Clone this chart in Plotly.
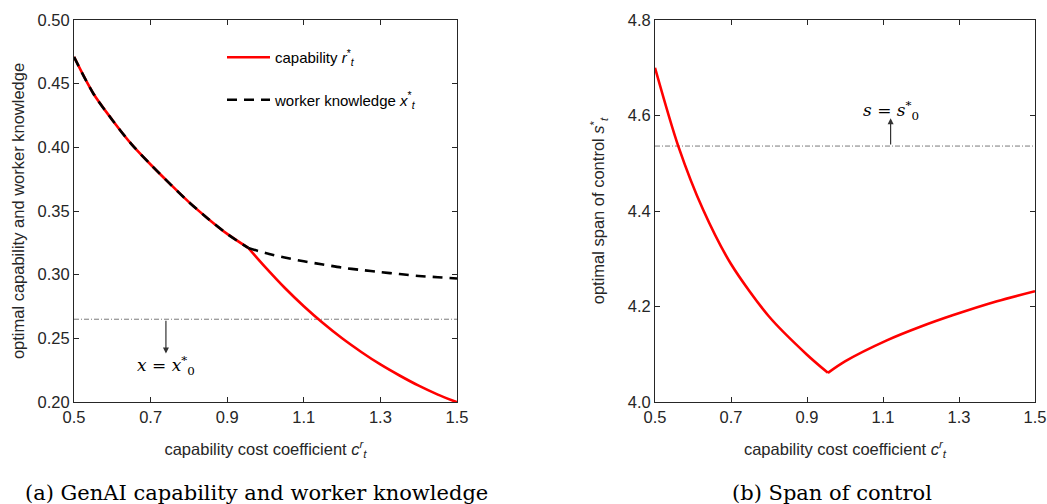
import plotly.graph_objects as go

# ---------------- data ----------------
c_left = [0.5, 0.55, 0.6, 0.65, 0.7, 0.75, 0.8, 0.85, 0.9, 0.955,
          1.0, 1.05, 1.1, 1.15, 1.2, 1.25, 1.3, 1.35, 1.4, 1.45, 1.5]
r_star = [0.471, 0.4425, 0.4215, 0.4025, 0.3865, 0.3715, 0.357, 0.344, 0.332, 0.321,
          0.3057, 0.2897, 0.2752, 0.2620, 0.2500, 0.2393, 0.2295, 0.2208, 0.2128, 0.2058, 0.1998]
x_star = [0.471, 0.4425, 0.4215, 0.4025, 0.3865, 0.3715, 0.357, 0.344, 0.332, 0.321,
          0.317, 0.3135, 0.3105, 0.308, 0.3055, 0.3037, 0.302, 0.3005, 0.299, 0.298, 0.297]
x0_star = 0.265
kink_left = 9  # index where r* departs from x*

c_right = [0.5, 0.561, 0.627, 0.7, 0.8, 0.9, 0.955, 1.0, 1.11, 1.2, 1.285, 1.4, 1.5]
s_star = [4.70, 4.5365, 4.402, 4.289, 4.179, 4.099, 4.061, 4.085, 4.129, 4.158, 4.182, 4.211, 4.232]
s0_star = 4.536
kink_right = 6  # index of minimum

x_ticks = [0.5, 0.7, 0.9, 1.1, 1.3, 1.5]
y_ticks_left = [0.20, 0.25, 0.30, 0.35, 0.40, 0.45, 0.50]
y_ticks_right = [4.0, 4.2, 4.4, 4.6, 4.8]

# ---------------- figure ----------------
W, H = 1047, 504
TXT = "#262626"
SANS = "Liberation Sans, Arial, Helvetica, sans-serif"
SERIF = "DejaVu Serif, serif"
RED = "#ff0000"
LW = 2.6

fig = go.Figure()

# left panel
fig.add_trace(go.Scatter(x=[c_left[0], c_left[-1]], y=[x0_star, x0_star], mode="lines",
                         line=dict(color="#7a7a7a", width=1, dash="5px,2px,1px,2px"),
                         showlegend=False, hoverinfo="skip", xaxis="x", yaxis="y"))
fig.add_trace(go.Scatter(x=c_left[:kink_left + 1], y=r_star[:kink_left + 1], mode="lines",
                         line=dict(color=RED, width=LW, shape="spline", smoothing=0.8),
                         name="capability <i>r</i><sup>*</sup><sub><i>t</i></sub>",
                         legendgroup="a", xaxis="x", yaxis="y"))
fig.add_trace(go.Scatter(x=c_left[kink_left:], y=r_star[kink_left:], mode="lines",
                         line=dict(color=RED, width=LW, shape="spline", smoothing=0.8),
                         legendgroup="a", showlegend=False, xaxis="x", yaxis="y"))
fig.add_trace(go.Scatter(x=c_left[:kink_left + 1], y=x_star[:kink_left + 1], mode="lines",
                         line=dict(color="#000000", width=LW, dash="10px,7px", shape="spline", smoothing=0.8),
                         name="worker knowledge <i>x</i><sup>*</sup><sub><i>t</i></sub>",
                         legendgroup="b", xaxis="x", yaxis="y"))
fig.add_trace(go.Scatter(x=c_left[kink_left:], y=x_star[kink_left:], mode="lines",
                         line=dict(color="#000000", width=LW, dash="10px,7px", shape="spline", smoothing=0.8),
                         legendgroup="b", showlegend=False, xaxis="x", yaxis="y"))

# right panel
fig.add_trace(go.Scatter(x=[c_right[0], c_right[-1]], y=[s0_star, s0_star], mode="lines",
                         line=dict(color="#7a7a7a", width=1, dash="5px,2px,1px,2px"),
                         showlegend=False, hoverinfo="skip", xaxis="x2", yaxis="y2"))
fig.add_trace(go.Scatter(x=c_right[:kink_right + 1], y=s_star[:kink_right + 1], mode="lines",
                         line=dict(color=RED, width=LW, shape="spline", smoothing=0.8),
                         showlegend=False, xaxis="x2", yaxis="y2"))
fig.add_trace(go.Scatter(x=c_right[kink_right:], y=s_star[kink_right:], mode="lines",
                         line=dict(color=RED, width=LW, shape="spline", smoothing=0.8),
                         showlegend=False, xaxis="x2", yaxis="y2"))

xb = (504 - 402) / H
yt = (504 - 20) / H

axis_common = dict(showline=True, linecolor=TXT, linewidth=1, mirror="ticks",
                   ticks="inside", ticklen=5, tickcolor=TXT, showgrid=False, zeroline=False,
                   automargin=False,
                   tickfont=dict(family=SANS, size=16.5, color=TXT))

xtitle = "capability cost coefficient <i>c</i><sup><i>r</i></sup><sub><i>t</i></sub>"
tfont = dict(family=SANS, size=16.5, color=TXT)

fig.update_layout(
    width=W, height=H, plot_bgcolor="white", paper_bgcolor="white",
    margin=dict(l=0, r=0, t=0, b=0, autoexpand=False),
    xaxis=dict(domain=[74 / W, 457 / W], range=[0.5, 1.5], tickvals=x_ticks, tickformat=".1f",
               title=dict(text=xtitle, font=tfont, standoff=18),
               anchor="y", **axis_common),
    yaxis=dict(domain=[xb, yt], range=[0.20, 0.50], tickvals=y_ticks_left, tickformat=".2f",
               title=dict(text="optimal capability and worker knowledge", font=tfont, standoff=8),
               anchor="x", **axis_common),
    xaxis2=dict(domain=[655 / W, 1035 / W], range=[0.5, 1.5], tickvals=x_ticks, tickformat=".1f",
                title=dict(text=xtitle, font=tfont, standoff=18),
                anchor="y2", **axis_common),
    yaxis2=dict(domain=[xb, yt], range=[4.0, 4.8], tickvals=y_ticks_right, tickformat=".1f",
                title=dict(text="optimal span of control <i>s</i><sup>*</sup><sub><i>t</i></sub>",
                           font=tfont, standoff=18),
                anchor="x2", **axis_common),
    legend=dict(x=222 / W, y=(504 - 41) / H, xanchor="left", yanchor="top",
                bgcolor="rgba(0,0,0,0)", borderwidth=0, tracegroupgap=20, itemwidth=43,
                font=dict(family=SANS, size=15, color="#000000")),
    showlegend=True,
)

# arrows and labels for the reference lines
fig.add_annotation(x=0.74, y=0.238, ax=0.74, ay=x0_star, xref="x", yref="y", axref="x", ayref="y",
                   text="", showarrow=True, arrowhead=2, arrowsize=1, arrowwidth=1.2, arrowcolor="#333333")
fig.add_annotation(x=0.74, y=0.2283, xref="x", yref="y", showarrow=False, yanchor="middle",
                   text="<i>x</i> = <i>x</i><sup>*</sup><sub>0</sub>",
                   font=dict(family=SERIF, size=17, color="#000000"))
fig.add_annotation(x=1.12, y=4.594, ax=1.12, ay=s0_star, xref="x2", yref="y2", axref="x2", ayref="y2",
                   text="", showarrow=True, arrowhead=2, arrowsize=1, arrowwidth=1.2, arrowcolor="#333333")
fig.add_annotation(x=1.12, y=4.610, xref="x2", yref="y2", showarrow=False, yanchor="middle",
                   text="<i>s</i> = <i>s</i><sup>*</sup><sub>0</sub>",
                   font=dict(family=SERIF, size=17, color="#000000"))

# captions
fig.add_annotation(x=256 / W, y=(504 - 493) / H, xref="paper", yref="paper", showarrow=False,
                   xanchor="center", yanchor="middle",
                   text="(a) GenAI capability and worker knowledge",
                   font=dict(family=SERIF, size=21, color="#000000"))
fig.add_annotation(x=832 / W, y=(504 - 493) / H, xref="paper", yref="paper", showarrow=False,
                   xanchor="center", yanchor="middle",
                   text="(b) Span of control",
                   font=dict(family=SERIF, size=21, color="#000000"))

fig.write_html("out.html", config={"displayModeBar": False},
               post_script="document.body.style.margin='0px';")
